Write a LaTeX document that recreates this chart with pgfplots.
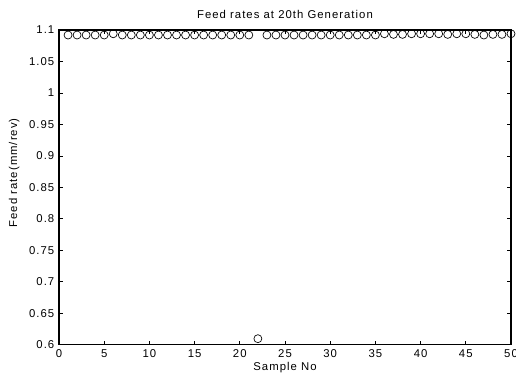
\documentclass[border=0pt]{standalone}
\usepackage{fontspec}
\setmainfont{Liberation Sans}
\usepackage{pgfplots}
\pgfplotsset{compat=1.18}
\newcommand{\chfont}{\fontsize{8.5}{10}\selectfont\addfontfeatures{LetterSpace=9}}
\begin{document}
\begin{tikzpicture}
\begin{axis}[
  scale only axis,
  width=339pt, height=236pt,
  xmin=0, xmax=50, ymin=0.6, ymax=1.1,
  xtick={0,5,...,50},
  ytick={0.6,0.65,...,1.1},
  yticklabels={0.6,0.65,0.7,0.75,0.8,0.85,0.9,0.95,1,1.05,1.1},
  scaled y ticks=false,
  tick align=inside,
  major tick length=3pt,
  axis line style={line width=0.8pt},
  tick style={line width=0.5pt, black},
  /pgf/number format/assume math mode=true,
  ticklabel style={font=\chfont},
  label style={font=\chfont},
  title style={font=\chfont, yshift=-1pt},
  title={Feed rates at 20th Generation},
  xlabel={Sample No},
  ylabel={Feed rate(mm/rev)},
  xlabel style={yshift=3pt},
  ylabel style={at={(ticklabel cs:0.546)}, yshift=0.5pt},
  clip=false,
]
\addplot[only marks, mark=o, mark size=3pt, line width=0.5pt, black] coordinates {
(1,1.092)(2,1.092)(3,1.092)(4,1.092)(5,1.092)(6,1.094)(7,1.092)(8,1.092)(9,1.092)(10,1.092)
(11,1.092)(12,1.092)(13,1.092)(14,1.092)(15,1.092)(16,1.092)(17,1.092)(18,1.092)(19,1.092)(20,1.092)
(21,1.092)(22,0.6095)(23,1.092)(24,1.092)(25,1.092)(26,1.092)(27,1.092)(28,1.092)(29,1.092)(30,1.092)
(31,1.092)(32,1.092)(33,1.092)(34,1.092)(35,1.092)(36,1.094)(37,1.093)(38,1.093)(39,1.094)(40,1.094)
(41,1.094)(42,1.094)(43,1.093)(44,1.094)(45,1.094)(46,1.093)(47,1.092)(48,1.093)(49,1.093)(50,1.094)
};
\coordinate (bl) at (rel axis cs:0,0);
\coordinate (tr) at (rel axis cs:1,1);
\end{axis}
\pgfresetboundingbox
\path[use as bounding box] ([shift={(-44.25pt,-24.75pt)}]bl) rectangle ([shift={(3.75pt,22.5pt)}]tr);
\end{tikzpicture}
\end{document}
